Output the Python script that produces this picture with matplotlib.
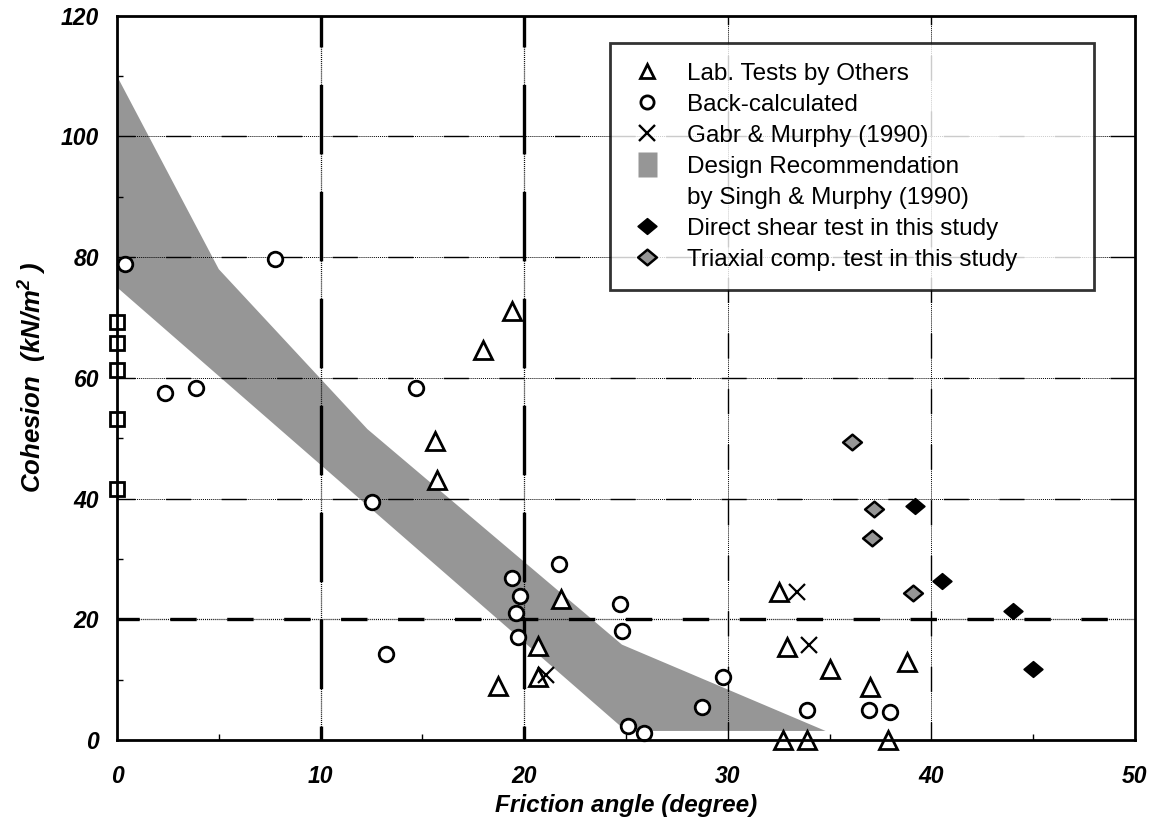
import matplotlib
matplotlib.use("Agg")
import matplotlib.pyplot as plt
from matplotlib.lines import Line2D
from matplotlib.path import Path
from matplotlib.ticker import MultipleLocator, FixedLocator

plt.rcParams['font.family'] = ['Liberation Sans', 'DejaVu Sans']
plt.rcParams['lines.scale_dashes'] = False
plt.rcParams['mathtext.fontset'] = 'custom'
plt.rcParams['mathtext.bf'] = 'Liberation Sans:bold:italic'
plt.rcParams['mathtext.rm'] = 'Liberation Sans'

# ---------------- data ----------------
tri_x = [19.4, 18.0, 15.6, 15.7, 21.8, 20.7, 20.7, 18.7, 32.5, 32.9, 35.0, 37.0, 38.8, 32.7, 33.9, 37.85]
tri_y = [71.0, 64.6, 49.6, 43.1, 23.3, 15.6, 10.5, 9.0, 24.5, 15.4, 11.7, 8.7, 12.9, 0.0, 0.0, 0.0]

back_x = [0.4, 7.76, 2.36, 3.9, 14.67, 12.5, 13.2, 19.4, 19.8, 19.6, 19.7, 21.7, 24.7, 24.8,
          25.1, 25.9, 28.75, 29.75, 33.9, 36.95, 37.97]
back_y = [78.8, 79.7, 57.5, 58.4, 58.3, 39.4, 14.3, 26.8, 23.9, 21.0, 17.0, 29.1, 22.5, 18.0,
          2.3, 1.1, 5.4, 10.4, 5.0, 4.9, 4.6]

sq_x = [0, 0, 0, 0, 0]
sq_y = [69.2, 65.8, 61.3, 53.2, 41.6]

gabr_x = [21.05, 33.4, 34.0]
gabr_y = [10.8, 24.5, 15.7]

ds_x = [39.2, 40.5, 44.0, 45.0]
ds_y = [38.7, 26.4, 21.4, 11.7]

tx_x = [36.1, 37.2, 37.1, 39.1]
tx_y = [49.4, 38.2, 33.4, 24.3]

band_upper_x = [0, 5, 12.3, 24.8, 34.8]
band_upper_y = [110, 78, 51.5, 15.8, 1.5]
band_lower_x = [0, 25, 34.8]
band_lower_y = [75, 1.5, 1.5]

x_ticks = [0, 10, 20, 30, 40, 50]
y_ticks = [0, 20, 40, 60, 80, 100, 120]

labels = ["Lab. Tests by Others", "Back-calculated", "Gabr & Murphy (1990)",
          "Design Recommendation", "by Singh & Murphy (1990)",
          "Direct shear test in this study", "Triaxial comp. test in this study"]

# ---------------- figure ----------------
fig = plt.figure(figsize=(11.56, 8.39), dpi=100)
ax = fig.add_axes([117/1156, 1 - 740/839, (1135 - 117)/1156, (740 - 15.7)/839])
ax.set_xlim(0, 50)
ax.set_ylim(0, 120)

band_col = '#969696'
poly_x = band_upper_x + band_lower_x[::-1]
poly_y = band_upper_y + band_lower_y[::-1]
ax.fill(poly_x, poly_y, color=band_col, lw=0, zorder=1)

# grid lines
thin_dot = (0, (0.7, 0.7))
for yv in [40, 60, 80, 100]:
    ax.axhline(yv, color='k', lw=0.7, ls=thin_dot, zorder=2)
    ax.axhline(yv, color='k', lw=1.0, ls=(5, (18, 22)), zorder=2)
for xv in [30, 40]:
    ax.axvline(xv, color='k', lw=0.7, ls=thin_dot, zorder=2)
    ax.axvline(xv, color='k', lw=1.0, ls=(5, (18, 22)), zorder=2)
# heavy lines
ax.axhline(20, color='k', lw=0.9, ls=thin_dot, zorder=2)
ax.axhline(20, color='k', lw=2.4, ls=(3, (19, 22)), zorder=2)
for xv in [10, 20]:
    ax.axvline(xv, color='k', lw=0.9, ls=thin_dot, zorder=2)
    ax.axvline(xv, color='k', lw=2.4, ls=(40, (50, 27)), zorder=2)

mew = 2.0
ax.plot(sq_x, sq_y, ls='none', marker='s', ms=9.5, mfc='white', mec='k', mew=mew, zorder=5, clip_on=False)
ax.plot(back_x, back_y, ls='none', marker='o', ms=10.5, mfc='white', mec='k', mew=mew, zorder=4, clip_on=False)
ax.plot(tri_x, tri_y, ls='none', marker='^', ms=12.5, mfc='white', mec='k', mew=mew, zorder=4, clip_on=False)
ax.plot(gabr_x, gabr_y, ls='none', marker='x', ms=12, mec='k', mew=1.6, zorder=4)

dia = Path([(-1.2, 0), (0, 1), (1.2, 0), (0, -1), (-1.2, 0)],
           [Path.MOVETO, Path.LINETO, Path.LINETO, Path.LINETO, Path.CLOSEPOLY])
ax.plot(ds_x, ds_y, ls='none', marker=dia, ms=13.5, mfc='k', mec='k', mew=1.2, zorder=4)
ax.plot(tx_x, tx_y, ls='none', marker=dia, ms=13.5, mfc=band_col, mec='k', mew=1.8, zorder=4)

# axes styling
for sp in ax.spines.values():
    sp.set_linewidth(2.0)
    sp.set_zorder(6)
ax.xaxis.set_major_locator(FixedLocator(x_ticks))
ax.yaxis.set_major_locator(FixedLocator(y_ticks))
ax.xaxis.set_minor_locator(MultipleLocator(5))
ax.yaxis.set_minor_locator(MultipleLocator(10))
ax.tick_params(which='major', length=0, pad=18, labelsize=16.5)
ax.tick_params(axis='y', which='major', pad=13)
ax.tick_params(which='minor', direction='in', length=4, width=1.0)
ax.set_xticklabels([str(v) for v in x_ticks], fontweight='bold', fontstyle='italic')
ax.set_yticklabels([str(v) for v in y_ticks], fontweight='bold', fontstyle='italic')

ax.set_xlabel('Friction angle (degree)', fontsize=17.5, fontweight='bold', fontstyle='italic', labelpad=4)
ax.set_ylabel('Cohesion  (kN/m$^{\\mathbf{2}}$ )', fontsize=18.5, fontweight='bold', fontstyle='italic', labelpad=9)

# legend
rect = Path([(-0.38, -0.5), (0.38, -0.5), (0.38, 0.5), (-0.38, 0.5), (-0.38, -0.5)],
            [Path.MOVETO, Path.LINETO, Path.LINETO, Path.LINETO, Path.CLOSEPOLY])
handles = [
    Line2D([], [], ls='none', marker='^', ms=10.5, mfc='white', mec='k', mew=2.0),
    Line2D([], [], ls='none', marker='o', ms=9.5, mfc='white', mec='k', mew=2.0),
    Line2D([], [], ls='none', marker='x', ms=12, mec='k', mew=1.7),
    Line2D([], [], ls='none', marker=rect, ms=18, mfc=band_col, mec='none'),
    Line2D([], [], ls='none', marker=None),
    Line2D([], [], ls='none', marker=dia, ms=13.5, mfc='k', mec='k', mew=1.2),
    Line2D([], [], ls='none', marker=dia, ms=13.5, mfc=band_col, mec='k', mew=1.8),
]
leg = ax.legend(handles, labels, loc='upper left', mode='expand',
                bbox_to_anchor=(0.484, 0.624, 0.476, 0.338),
                fontsize=17.5, frameon=True, fancybox=False, borderpad=0.8,
                handlelength=1.5, handletextpad=0.9, labelspacing=0.37,
                borderaxespad=0)
leg.get_frame().set_edgecolor('k')
leg.get_frame().set_linewidth(2.0)
leg.set_zorder(10)

fig.savefig('out.png', dpi=100)
